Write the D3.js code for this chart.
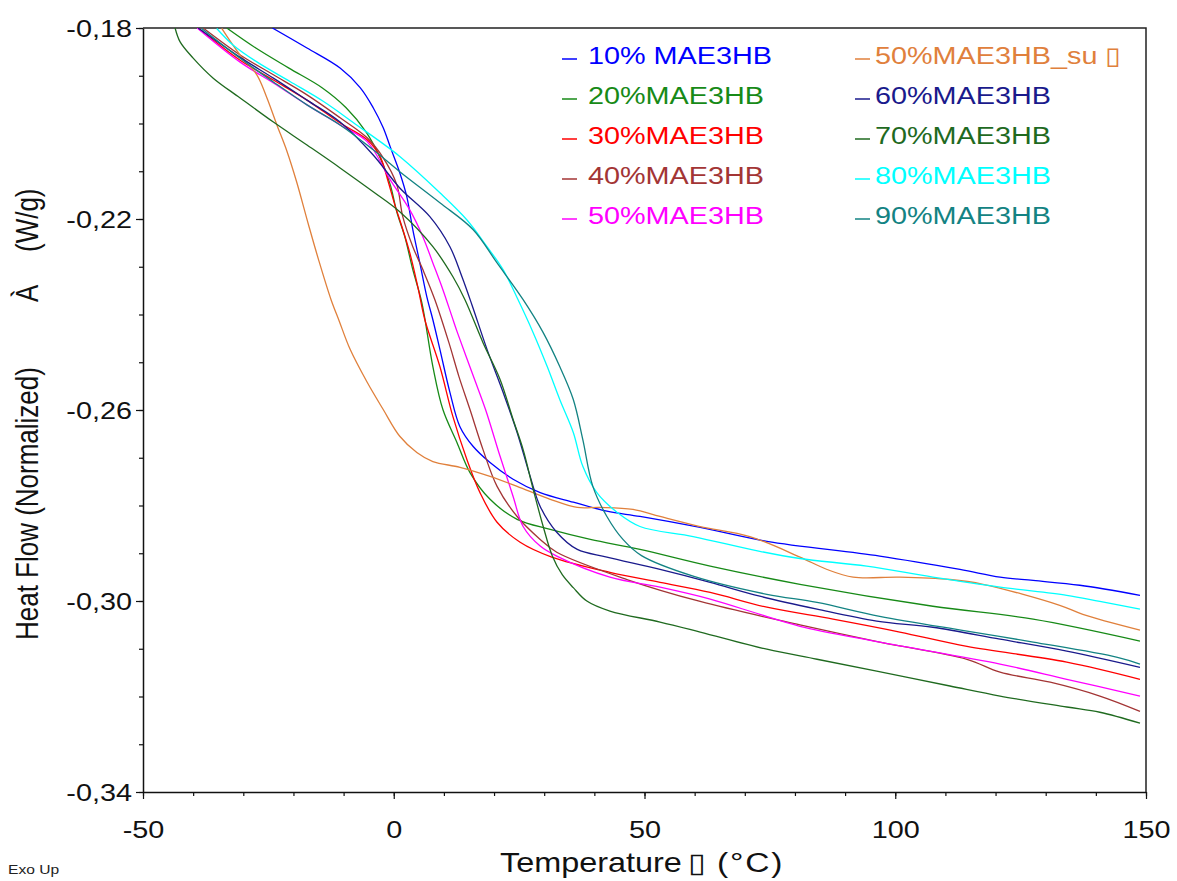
<!DOCTYPE html>
<html>
<head>
<meta charset="utf-8">
<script src="https://cdn.jsdelivr.net/npm/d3@7"></script>
<style>
  body { margin: 0; background: #fff; }
  text { font-family: "Liberation Sans", Arial, sans-serif; }
</style>
</head>
<body>
<svg id="chart" width="1177" height="881"></svg>
<script>
// ---------------- data (Temperature °C, Heat Flow W/g) ----------------
const d10 = [[-24.2,-0.1800],[-17.3,-0.1842],[-10.7,-0.1884],[-6.7,-0.1925],[-4.1,-0.1967],[-2.1,-0.2009],[-0.7,-0.2049],[1.2,-0.2103],[2.6,-0.2153],[3.8,-0.2222],[5.2,-0.2292],[6.6,-0.2363],[7.8,-0.2411],[9.2,-0.2473],[11.2,-0.2563],[13.2,-0.2635],[15.8,-0.2676],[19.2,-0.2710],[23.8,-0.2745],[29.2,-0.2773],[35.8,-0.2793],[42.5,-0.2812],[49.1,-0.2823],[61.1,-0.2846],[74.4,-0.2875],[96.9,-0.2906],[112.9,-0.2934],[120.9,-0.2950],[127.5,-0.2957],[136.8,-0.2967],[148.8,-0.2988]];
const d20 = [[-33.3,-0.1800],[-27.5,-0.1842],[-20.9,-0.1884],[-14.3,-0.1925],[-9.5,-0.1967],[-5.5,-0.2018],[-2.7,-0.2072],[-0.7,-0.2128],[0.6,-0.2185],[2.2,-0.2237],[3.8,-0.2306],[5.6,-0.2375],[7.8,-0.2509],[9.8,-0.2599],[12.6,-0.2668],[15.2,-0.2731],[19.2,-0.2787],[24.6,-0.2829],[31.2,-0.2850],[39.2,-0.2871],[49.1,-0.2892],[63.1,-0.2927],[81.0,-0.2965],[107.5,-0.3011],[127.5,-0.3038],[148.8,-0.3084]];
const d30 = [[-39.0,-0.1800],[-30.7,-0.1867],[-24.0,-0.1909],[-17.3,-0.1951],[-10.7,-0.1999],[-5.3,-0.2034],[-2.7,-0.2070],[-1.1,-0.2122],[0.2,-0.2170],[1.2,-0.2202],[3.2,-0.2271],[4.8,-0.2342],[6.2,-0.2411],[9.2,-0.2509],[11.8,-0.2614],[14.6,-0.2704],[17.2,-0.2773],[20.6,-0.2835],[25.2,-0.2877],[31.5,-0.2908],[43.1,-0.2940],[53.1,-0.2961],[63.1,-0.2982],[74.4,-0.3013],[87.6,-0.3038],[100.9,-0.3065],[114.3,-0.3095],[134.2,-0.3128],[148.8,-0.3164]];
const d40 = [[-38.0,-0.1800],[-30.7,-0.1856],[-24.0,-0.1898],[-17.3,-0.1940],[-10.7,-0.1988],[-5.3,-0.2030],[-2.1,-0.2072],[0.6,-0.2128],[1.8,-0.2195],[3.8,-0.2258],[5.8,-0.2306],[8.2,-0.2369],[11.0,-0.2459],[13.0,-0.2530],[15.2,-0.2599],[17.8,-0.2683],[20.6,-0.2760],[24.6,-0.2823],[29.2,-0.2871],[32.5,-0.2898],[46.5,-0.2955],[61.1,-0.3001],[81.0,-0.3050],[96.9,-0.3086],[114.3,-0.3122],[120.9,-0.3149],[130.9,-0.3170],[140.8,-0.3199],[148.8,-0.3231]];
const d50 = [[-39.2,-0.1800],[-30.7,-0.1871],[-24.0,-0.1915],[-17.3,-0.1961],[-10.7,-0.2003],[-5.3,-0.2038],[-0.7,-0.2118],[3.2,-0.2181],[5.8,-0.2237],[7.8,-0.2292],[9.8,-0.2348],[11.6,-0.2404],[12.7,-0.2438],[15.9,-0.2530],[18.3,-0.2599],[21.2,-0.2697],[23.8,-0.2781],[25.8,-0.2844],[29.2,-0.2885],[32.5,-0.2906],[43.1,-0.2950],[53.1,-0.2971],[63.1,-0.2996],[73.0,-0.3028],[81.0,-0.3053],[96.9,-0.3086],[120.9,-0.3132],[134.2,-0.3164],[148.8,-0.3199]];
const d50su = [[-34.3,-0.1801],[-30.7,-0.1856],[-27.3,-0.1898],[-25.3,-0.1946],[-23.3,-0.2003],[-21.3,-0.2058],[-19.4,-0.2121],[-17.0,-0.2212],[-15.0,-0.2285],[-12.5,-0.2369],[-10.9,-0.2413],[-8.7,-0.2473],[-5.3,-0.2542],[-2.1,-0.2599],[1.2,-0.2655],[4.6,-0.2689],[7.8,-0.2708],[13.2,-0.2720],[19.2,-0.2739],[24.6,-0.2760],[31.2,-0.2787],[36.6,-0.2804],[41.1,-0.2804],[47.7,-0.2808],[53.1,-0.2823],[61.1,-0.2844],[71.0,-0.2865],[81.0,-0.2908],[86.4,-0.2934],[91.6,-0.2950],[100.9,-0.2950],[110.9,-0.2955],[117.5,-0.2965],[132.8,-0.3009],[137.4,-0.3028],[148.8,-0.3061]];
const d60 = [[-39.0,-0.1800],[-30.7,-0.1861],[-24.0,-0.1905],[-17.3,-0.1951],[-10.7,-0.1997],[-4.1,-0.2066],[1.2,-0.2135],[7.2,-0.2195],[11.2,-0.2258],[13.6,-0.2321],[15.6,-0.2380],[18.6,-0.2473],[21.8,-0.2563],[24.6,-0.2647],[27.2,-0.2739],[29.2,-0.2802],[32.5,-0.2856],[36.6,-0.2892],[42.5,-0.2908],[53.1,-0.2934],[63.1,-0.2961],[73.0,-0.2990],[84.4,-0.3017],[96.3,-0.3042],[107.5,-0.3055],[120.9,-0.3080],[134.2,-0.3105],[148.8,-0.3139]];
const d70 = [[-43.6,-0.1800],[-42.6,-0.1829],[-40.0,-0.1863],[-36.0,-0.1905],[-30.7,-0.1946],[-24.0,-0.1997],[-17.3,-0.2045],[-10.7,-0.2093],[-4.1,-0.2143],[1.2,-0.2185],[7.8,-0.2258],[11.8,-0.2321],[14.2,-0.2369],[17.8,-0.2459],[21.2,-0.2536],[23.8,-0.2620],[25.8,-0.2683],[27.8,-0.2766],[29.8,-0.2844],[31.6,-0.2905],[33.6,-0.2945],[35.8,-0.2972],[38.5,-0.3000],[43.1,-0.3021],[53.1,-0.3044],[61.1,-0.3065],[74.4,-0.3101],[84.4,-0.3122],[96.3,-0.3147],[110.9,-0.3178],[120.9,-0.3199],[134.2,-0.3222],[140.8,-0.3233],[148.8,-0.3256]];
const d80 = [[-35.3,-0.1801],[-32.0,-0.1836],[-27.3,-0.1871],[-20.7,-0.1912],[-14.0,-0.1954],[-7.4,-0.2003],[-2.7,-0.2038],[1.2,-0.2069],[9.2,-0.2145],[14.6,-0.2202],[18.6,-0.2258],[21.8,-0.2306],[24.6,-0.2365],[27.8,-0.2438],[30.6,-0.2509],[33.1,-0.2578],[35.8,-0.2647],[37.7,-0.2718],[40.5,-0.2773],[44.5,-0.2814],[49.1,-0.2844],[59.7,-0.2865],[73.0,-0.2896],[81.0,-0.2911],[94.3,-0.2927],[107.5,-0.2950],[120.9,-0.2971],[134.2,-0.2988],[140.8,-0.3001],[148.8,-0.3017]];
const d90 = [[-38.3,-0.1801],[-30.7,-0.1863],[-24.0,-0.1913],[-17.3,-0.1961],[-10.7,-0.2003],[-4.1,-0.2055],[1.2,-0.2101],[9.2,-0.2166],[15.8,-0.2222],[20.6,-0.2292],[25.8,-0.2369],[29.8,-0.2438],[33.1,-0.2509],[35.8,-0.2578],[37.7,-0.2662],[39.7,-0.2760],[42.5,-0.2823],[45.7,-0.2871],[49.4,-0.2905],[59.7,-0.2948],[74.4,-0.2986],[84.4,-0.3003],[96.9,-0.3032],[114.3,-0.3063],[127.5,-0.3086],[144.3,-0.3118],[148.8,-0.3132]];

const names  = ["10% MAE3HB","20%MAE3HB","30%MAE3HB","40%MAE3HB","50%MAE3HB",
                "50%MAE3HB_su \u25AF","60%MAE3HB","70%MAE3HB","80%MAE3HB","90%MAE3HB"];
const colors = ["#0000ff","#178a17","#ff0000","#a33535","#ff00ff",
                "#e0803c","#1a1a8c","#1f6a1f","#00ffff","#138383"];
const curves = [d10, d20, d30, d40, d50, d50su, d60, d70, d80, d90];

const xTicks = [-50, 0, 50, 100, 150];
const yTicks = [-0.34, -0.30, -0.26, -0.22, -0.18];

// ---------------- layout ----------------
const SX = 1.2; // text in the picture is stretched horizontally
const plotL = 143, plotR = 1146, plotT = 28, plotB = 792;

const x = d3.scaleLinear().domain([-50, 150]).range([plotL, plotR]);
const y = d3.scaleLinear().domain([-0.34, -0.18]).range([plotB, plotT]);

const svg = d3.select("#chart");

svg.append("clipPath").attr("id", "clip")
  .append("rect")
  .attr("x", plotL).attr("y", plotT)
  .attr("width", plotR - plotL).attr("height", plotB - plotT);

//---------------- axes ----------------
const fmt = v => d3.format(".2f")(v).replace(".", ",").replace("\u2212", "-");

// minor ticks first
svg.append("g")
  .attr("transform", "translate(0," + plotB + ")")
  .call(d3.axisBottom(x).tickValues(d3.range(-50, 151, 10)).tickSize(4).tickSizeOuter(0).tickFormat(""))
  .call(g => g.select(".domain").remove());

svg.append("g")
  .attr("transform", "translate(" + plotL + ",0)")
  .call(d3.axisLeft(y).tickValues(d3.range(0, 17).map(i => -0.34 + i * 0.01)).tickSize(4).tickSizeOuter(0).tickFormat(""))
  .call(g => g.select(".domain").remove());

const gx = svg.append("g")
  .attr("transform", "translate(0," + plotB + ")")
  .call(d3.axisBottom(x).tickValues(xTicks).tickSize(7).tickSizeOuter(0).tickFormat(d => String(d)));
gx.selectAll(".tick text")
  .attr("y", null).attr("dy", null)
  .attr("transform", "translate(0,46) scale(" + SX + ",1)")
  .attr("font-size", 24).attr("font-family", "Liberation Sans, Arial, sans-serif")
  .attr("fill", "#111");

const gy = svg.append("g")
  .attr("transform", "translate(" + plotL + ",0)")
  .call(d3.axisLeft(y).tickValues(yTicks).tickSize(7).tickSizeOuter(0).tickFormat(fmt));
gy.selectAll(".tick text")
  .attr("x", null).attr("dy", "0.36em")
  .attr("transform", "translate(-11,0) scale(" + SX + ",1)")
  .attr("font-size", 24).attr("font-family", "Liberation Sans, Arial, sans-serif")
  .attr("fill", "#111");

svg.selectAll(".domain").attr("stroke", "#111").attr("stroke-width", 1.5);
svg.selectAll(".tick line").attr("stroke", "#111").attr("stroke-width", 1.2);

// frame (top / right)
svg.append("path")
  .attr("d", "M" + plotL + "," + plotT + "H" + plotR + "V" + plotB)
  .attr("fill", "none").attr("stroke", "#222").attr("stroke-width", 1.5);

//---------------- curves ----------------
const line = d3.line()
  .x(d => x(d[0]))
  .y(d => y(d[1]))
  .curve(d3.curveCatmullRom.alpha(0.5));

svg.append("g").attr("clip-path", "url(#clip)")
  .selectAll("path")
  .data(curves)
  .enter().append("path")
  .attr("d", line)
  .attr("fill", "none")
  .attr("stroke", (d, i) => colors[i])
  .attr("stroke-width", 1.3);

//---------------- legend ----------------
const legend = svg.append("g")
  .selectAll("g")
  .data(names)
  .enter().append("g")
  .attr("transform", (d, i) => "translate(" + (i < 5 ? 562 : 855) + "," + (64 + (i % 5) * 40) + ")");

legend.append("line")
  .attr("x1", 0).attr("x2", 15)
  .attr("y1", -5).attr("y2", -5)
  .attr("stroke", (d, i) => colors[i])
  .attr("stroke-width", 1.5);

legend.append("text")
  .attr("transform", (d, i) => "translate(" + (i < 5 ? 26 : 20) + ",0) scale(" + SX + ",1)")
  .attr("font-size", 24)
  .attr("fill", (d, i) => colors[i])
  .text(d => d);

//---------------- titles ----------------
const yTitle = [["Heat Flow (Normalized)", 640], ["\u00C0", 302], ["(W/g)", 252]];
svg.selectAll(".ytitle")
  .data(yTitle)
  .enter().append("text")
  .attr("class", "ytitle")
  .attr("transform", d => "translate(38," + d[1] + ") scale(" + SX + ",1) rotate(-90)")
  .attr("font-size", 26)
  .attr("fill", "#111")
  .text(d => d[0]);

const xTitle = [["Temperature", 500, 27, 0], ["\u25AF", 688, 27, 0], ["(\u00B0C)", 717, 28, 1.5]];
svg.selectAll(".xtitle")
  .data(xTitle)
  .enter().append("text")
  .attr("class", "xtitle")
  .attr("transform", d => "translate(" + d[1] + ",872) scale(" + SX + ",1)")
  .attr("font-size", d => d[2])
  .attr("letter-spacing", d => d[3])
  .attr("fill", "#111")
  .text(d => d[0]);

svg.append("text")
  .attr("transform", "translate(8,874) scale(" + SX + ",1)")
  .attr("font-size", 13)
  .attr("fill", "#222")
  .text("Exo Up");
</script>
</body>
</html>
